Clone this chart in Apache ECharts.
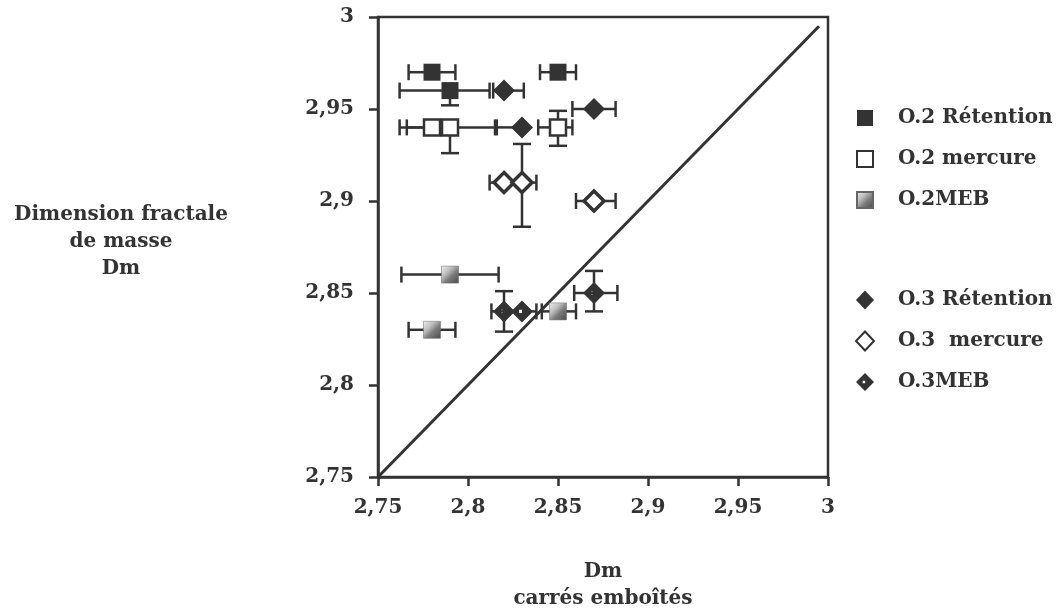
<!DOCTYPE html>
<html>
<head>
<meta charset="utf-8">
<script src="https://cdn.jsdelivr.net/npm/echarts@6/dist/echarts.min.js"></script>
<style>
  html, body { margin: 0; padding: 0; background: #fff; }
  #chart { width: 1056px; height: 608px; }
</style>
</head>
<body>
<div id="chart"></div>
<script>
// Axis ticks (both axes share the same range)
const tickValues = [2.75, 2.8, 2.85, 2.9, 2.95, 3];

// Points: [x (carrés emboîtés), y (masse)]
const o2Retention = [[2.78, 2.97], [2.79, 2.96], [2.85, 2.97]];
const o2Mercure   = [[2.78, 2.94], [2.79, 2.94], [2.85, 2.94]];
const o2Meb       = [[2.79, 2.86], [2.78, 2.83], [2.85, 2.84]];
const o3Retention = [[2.82, 2.96], [2.83, 2.94], [2.87, 2.95]];
const o3Mercure   = [[2.82, 2.91], [2.83, 2.91], [2.87, 2.90]];
const o3Meb       = [[2.82, 2.84], [2.83, 2.84], [2.87, 2.85]];

// Error extents per point: [xLow, xHigh, yLow, yHigh]
const o2RetentionErr = [[0.013, 0.013, 0, 0], [0.028, 0.022, 0.008, 0], [0.01, 0.01, 0, 0]];
const o2MercureErr   = [[0.014, 0, 0, 0], [0.028, 0.025, 0.014, 0], [0.011, 0.008, 0.01, 0.009]];
const o2MebErr       = [[0.027, 0.027, 0, 0], [0.013, 0.013, 0, 0], [0.009, 0.01, 0, 0]];
const o3RetentionErr = [[0.006, 0.011, 0, 0], [0.014, 0, 0, 0], [0.012, 0.012, 0, 0]];
const o3MercureErr   = [[0.008, 0, 0, 0], [0, 0.008, 0.024, 0.021], [0.01, 0.012, 0, 0]];
const o3MebErr       = [[0.007, 0, 0.011, 0.011], [0, 0.008, 0, 0], [0.011, 0.013, 0.01, 0.012]];

// Reference line y = x
const diagonal = [[2.75, 2.75], [2.995, 2.995]];

const INK = '#333';
const FONT = 'DejaVu Serif';

const mebFill = {
  type: 'linear', x: 0, y: 0, x2: 1, y2: 1,
  colorStops: [
    { offset: 0, color: '#f0f0f0' },
    { offset: 0.35, color: '#bdbdbd' },
    { offset: 0.6, color: '#7a7a7a' },
    { offset: 1, color: '#4a4a4a' }
  ]
};

// Filled diamond with a small hole in the middle
const dottedDiamond = 'path://M0,-10 L10,0 L0,10 L-10,0 Z M-2.6,-1.4 L-2.6,1.4 L0.2,1.4 L0.2,-1.4 Z';

function errorSeries(points, errs) {
  const data = points.map((p, i) => [p[0], p[1]].concat(errs[i]));
  return {
    type: 'custom',
    silent: true,
    z: 2,
    data: data,
    encode: { x: 0, y: 1 },
    renderItem: function (params, api) {
      const x = api.value(0), y = api.value(1);
      const xl = api.value(2), xh = api.value(3), yl = api.value(4), yh = api.value(5);
      const c = api.coord([x, y]);
      const children = [];
      const style = { stroke: INK, lineWidth: 2.5 };
      const capV = 8, capH = 9;
      if (xl > 0) {
        const p = api.coord([x - xl, y]);
        children.push({ type: 'line', shape: { x1: p[0], y1: c[1], x2: c[0], y2: c[1] }, style: style });
        children.push({ type: 'line', shape: { x1: p[0], y1: c[1] - capV, x2: p[0], y2: c[1] + capV }, style: style });
      }
      if (xh > 0) {
        const p = api.coord([x + xh, y]);
        children.push({ type: 'line', shape: { x1: c[0], y1: c[1], x2: p[0], y2: c[1] }, style: style });
        children.push({ type: 'line', shape: { x1: p[0], y1: c[1] - capV, x2: p[0], y2: c[1] + capV }, style: style });
      }
      if (yl > 0) {
        const p = api.coord([x, y - yl]);
        children.push({ type: 'line', shape: { x1: c[0], y1: c[1], x2: c[0], y2: p[1] }, style: style });
        children.push({ type: 'line', shape: { x1: c[0] - capH, y1: p[1], x2: c[0] + capH, y2: p[1] }, style: style });
      }
      if (yh > 0) {
        const p = api.coord([x, y + yh]);
        children.push({ type: 'line', shape: { x1: c[0], y1: c[1], x2: c[0], y2: p[1] }, style: style });
        children.push({ type: 'line', shape: { x1: c[0] - capH, y1: p[1], x2: c[0] + capH, y2: p[1] }, style: style });
      }
      return { type: 'group', children: children };
    }
  };
}

function pointSeries(name, points, symbol, size, itemStyle) {
  return {
    name: name,
    type: 'scatter',
    z: 5,
    data: points,
    symbol: symbol,
    symbolSize: size,
    itemStyle: Object.assign({ opacity: 1 }, itemStyle),
    emphasis: { disabled: true }
  };
}

const fmt = v => String(+v.toFixed(2)).replace('.', ',');

const axisCommon = {
  type: 'value',
  min: 2.75,
  max: 3,
  interval: 0.05,
  axisLine: { show: true, onZero: false, lineStyle: { color: INK, width: 2.5 } },
  axisTick: { show: true, inside: false, length: 9, lineStyle: { color: INK, width: 2.5 } },
  splitLine: { show: false },
  axisLabel: {
    formatter: fmt,
    color: INK,
    fontFamily: FONT,
    fontWeight: 'bold',
    fontSize: 20
  }
};

const legendText = {
  color: INK,
  fontFamily: FONT,
  fontWeight: 'bold',
  fontSize: 20,
  lineHeight: 22,
  padding: [0, 0, 0, 20]
};

const chart = echarts.init(document.getElementById('chart'), null, { renderer: 'canvas' });

chart.setOption({
  animation: false,
  backgroundColor: '#fff',
  grid: {
    left: 378, right: 228, top: 17, bottom: 131,
    show: true, borderColor: INK, borderWidth: 2.5
  },
  xAxis: Object.assign({}, axisCommon, {
    axisLabel: Object.assign({}, axisCommon.axisLabel, { margin: 21 })
  }),
  yAxis: Object.assign({}, axisCommon, {
    axisLabel: Object.assign({}, axisCommon.axisLabel, { margin: 24 })
  }),
  legend: [
    {
      orient: 'vertical', left: 856, top: 107, padding: 0,
      itemWidth: 16, itemHeight: 16, itemGap: 19,
      selectedMode: false,
      data: ['O.2 Rétention', 'O.2 mercure', 'O.2MEB'],
      textStyle: legendText
    },
    {
      orient: 'vertical', left: 855, top: 289, padding: 0,
      itemWidth: 18, itemHeight: 19, itemGap: 19,
      selectedMode: false,
      data: ['O.3 Rétention', 'O.3  mercure', 'O.3MEB'],
      textStyle: Object.assign({}, legendText, { padding: [0, 0, 0, 19] })
    }
  ],
  graphic: [
    {
      type: 'text',
      style: {
        x: 121, y: 201, text: 'Dimension fractale\nde masse\nDm', textAlign: 'center',
        fill: INK, font: 'bold 20px "' + FONT + '"', lineHeight: 27
      }
    },
    {
      type: 'text',
      style: {
        x: 603, y: 558, text: 'Dm\ncarrés emboîtés', textAlign: 'center',
        fill: INK, font: 'bold 20px "' + FONT + '"', lineHeight: 27
      }
    }
  ],
  series: [
    {
      type: 'line', data: diagonal, silent: true, z: 1,
      symbol: 'none', lineStyle: { color: INK, width: 3 }
    },
    errorSeries(o2Retention, o2RetentionErr),
    errorSeries(o2Mercure, o2MercureErr),
    errorSeries(o2Meb, o2MebErr),
    errorSeries(o3Retention, o3RetentionErr),
    errorSeries(o3Mercure, o3MercureErr),
    errorSeries(o3Meb, o3MebErr),
    pointSeries('O.2 Rétention', o2Retention, 'rect', 17, { color: INK }),
    pointSeries('O.2 mercure', o2Mercure, 'rect', 16, { color: '#fff', borderColor: INK, borderWidth: 2.5 }),
    pointSeries('O.2MEB', o2Meb, 'rect', 17, { color: mebFill, borderColor: '#666', borderWidth: 0.5 }),
    pointSeries('O.3 Rétention', o3Retention, 'diamond', 22, { color: INK }),
    pointSeries('O.3  mercure', o3Mercure, 'diamond', 20, { color: '#fff', borderColor: INK, borderWidth: 3.5 }),
    pointSeries('O.3MEB', o3Meb, dottedDiamond, 22, { color: INK })
  ]
});
</script>
</body>
</html>
